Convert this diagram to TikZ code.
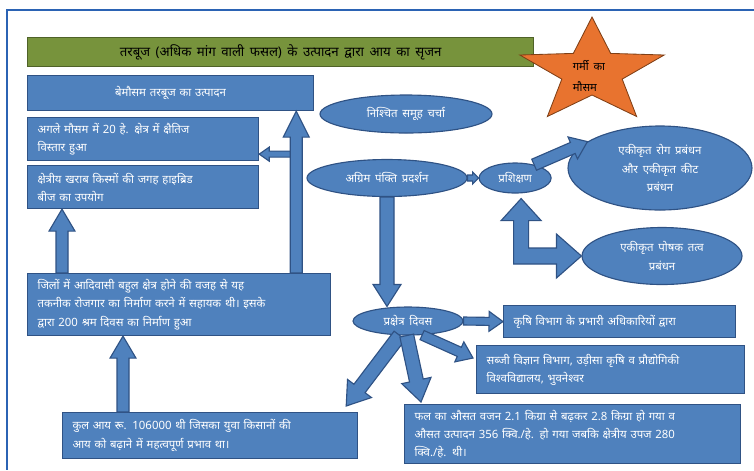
\documentclass[tikz,border=0pt]{standalone}
\usepackage{fontspec}
\newfontfamily\hindi[Script=Devanagari,WordSpace=1.6]{Noto Sans}
\usepackage{tikz}
\usetikzlibrary{shapes.geometric,calc,positioning}

\definecolor{boxblue}{HTML}{4F81BD}
\definecolor{boxedge}{HTML}{2F5284}
\definecolor{bargreen}{HTML}{77933C}
\definecolor{baredge}{HTML}{4F6228}
\definecolor{starorange}{HTML}{E8732F}
\definecolor{staredge}{HTML}{7F3F16}
\definecolor{framelin}{HTML}{2B63B4}

% block arrow: shaft half width, head half width, head length, from, to
\newcommand{\fatarrow}[5]{%
  \coordinate (fa-b) at ($(#5)!#3*0.025cm!(#4)$);
  \draw[fat] ($(#4)!#1*0.025cm!90:(#5)$) -- ($(fa-b)!#1*0.025cm!90:(#5)$)
    -- ($(fa-b)!#2*0.025cm!90:(#5)$) -- (#5)
    -- ($(fa-b)!#2*0.025cm!-90:(#5)$) -- ($(fa-b)!#1*0.025cm!-90:(#5)$)
    -- ($(#4)!#1*0.025cm!-90:(#5)$) -- cycle;}

\begin{document}
\begin{tikzpicture}[x=0.025cm,y=-0.025cm,
  txt/.style={font=\hindi\fontsize{8.1}{13}\selectfont},
  box/.style={txt,draw=boxedge,fill=boxblue,line width=0.8pt,text=white,
    align=left,anchor=north west,inner xsep=0.25cm},
  wd/.style={minimum width=#1*0.025cm},
  ht/.style={minimum height=#1*0.025cm},
  oval/.style={txt,ellipse,draw=boxedge,fill=boxblue,line width=0.8pt,
    text=white,align=center,inner sep=0pt},
  fat/.style={draw=boxedge,fill=boxblue,line width=0.8pt,line join=miter}
  ]

\useasboundingbox (0,0) rectangle (754,470);
\draw[framelin,line width=1pt] (754,10) -- (7,10) -- (7,470);

% Title bar
\node[draw=baredge,fill=bargreen,line width=1pt,anchor=north west,wd=506,ht=29,
  font=\hindi\fontsize{9.4}{11}\selectfont] (T) at (27,37)
  {तरबूज (अधिक मांग वाली फसल) के उत्पादन द्वारा आय का सृजन};

% Summer star
\draw[fill=starorange,draw=staredge,line width=0.6pt,shift={(592,72)},xscale=1.38]
  (-90:55) \foreach \k in {1,...,9} {-- ({-90+36*\k}:{mod(\k,2)==1 ? 23 : 55})} -- cycle;
\node[font=\hindi\fontsize{8}{15}\selectfont,align=left] (ST) at (589,76)
  {गर्मी का\\मौसम};

% Boxes on the left
\node[box,align=center,text width=6.65cm,wd=286,ht=35] (B1) at (27,75)
  {बेमौसम तरबूज का उत्पादन};
\node[box,text width=5.275cm,wd=231,ht=43] (B2) at (27,117)
  {अगले मौसम में 20 हे. क्षेत्र में क्षैतिज\\विस्तार हुआ};
\node[box,text width=5.275cm,wd=231,ht=43] (B3) at (27,165)
  {क्षेत्रीय खराब किस्मों की जगह हाइब्रिड\\बीज का उपयोग};
\node[box,text width=7.075cm,wd=303,ht=62] (B4) at (27,273)
  {जिलों में आदिवासी बहुल क्षेत्र होने की वजह से यह\\तकनीक रोजगार का निर्माण करने में सहायक थी। इसके\\द्वारा 200 श्रम दिवस का निर्माण हुआ};
\node[box,text width=6.875cm,wd=295,ht=46] (B5) at (62,412)
  {कुल आय रू. 106000 थी जिसका युवा किसानों की\\आय को बढ़ाने में महत्वपूर्ण प्रभाव था।};

% Boxes on the right
\node[box,text width=5.3cm,wd=232,ht=32] (B6) at (503,305)
  {कृषि विभाग के प्रभारी अधिकारियों द्वारा};
\node[box,text width=6.2cm,wd=268,ht=48] (B7) at (476,345)
  {सब्जी विज्ञान विभाग, उड़ीसा कृषि व प्रौद्योगिकी\\विश्वविद्यालय, भुवनेश्वर};
\node[box,text width=7.9cm,wd=336,ht=59] (B8) at (404,404)
  {फल का औसत वजन 2.1 किग्रा से बढ़कर 2.8 किग्रा हो गया व\\औसत उत्पादन 356 क्वि./हे. हो गया जबकि क्षेत्रीय उपज 280\\क्वि./हे. थी।};

% Ovals
\node[oval,wd=172,ht=38] (E1) at (406,114) {निश्चित समूह चर्चा};
\node[oval,wd=160,ht=37] (E2) at (387,178) {अग्रिम पंक्ति प्रदर्शन};
\node[oval,wd=72,ht=30,right=0.275cm of E2] (E3) {प्रशिक्षण};
\node[oval,wd=184,ht=84] (E4) at (660,168) {एकीकृत रोग प्रबंधन\\और एकीकृत कीट\\प्रबंधन};
\node[oval,wd=160,ht=57] (E5) at (662,256) {एकीकृत पोषक तत्व\\प्रबंधन};
\node[oval,wd=110,ht=28] (E6) at (408,321) {प्रक्षेत्र दिवस};

% Arrows on the left side
\fatarrow{3}{7}{10}{$(B2.south east)+(36,-7)$}{$(B2.south east)+(0,-7)$}
\fatarrow{6}{13}{26}{$(B4.north east)+(-35,0)$}{$(B1.south east)+(-18,0)$}
\fatarrow{6}{13}{22}{$(B4.north west)+(35,0)$}{$(B3.south west)+(35,0)$}
\fatarrow{6}{13}{22}{$(B5.north west)+(61,0)$}{$(B4.south west)+(96,0)$}

% Arrows around the demonstration
\fatarrow{7}{14}{22}{E2.south}{E2.south |- E6.north}
\fatarrow{3}{6}{6}{E2.east}{E3.west}
\fatarrow{6}{12}{16}{E3.35}{E4.160}
\coordinate (up) at ($(E3.south)+(6,5)$);
\draw[fat] (up) -- ++(20,22) -- ++(-12.5,0) |- ($(E5.west)+(-25,-8)$) -- ++(0,-14)
  -- (E5.west) -- ++(-25,22) -- ++(0,-14) -| ($(up)+(-7.5,22)$) -- ++(-12.5,0) -- cycle;

% Arrows out of the field day
\fatarrow{4}{10}{14}{E6.east}{B6.west}
\fatarrow{5}{11}{15}{E6.-45}{$(B7.north west)+(-3,13)$}
\fatarrow{7}{15}{22}{E6.-120}{$(B5.north east)+(-12,-6)$}
\fatarrow{7}{15}{22}{E6.-95}{$(B8.north west)+(17,-2)$}

\end{tikzpicture}
\end{document}
